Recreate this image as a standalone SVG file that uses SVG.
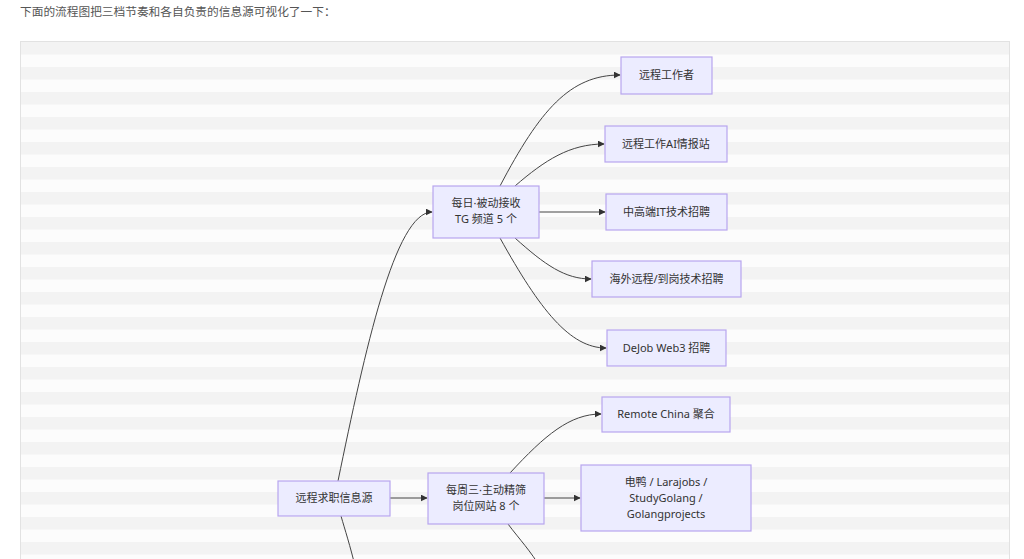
<svg xmlns="http://www.w3.org/2000/svg" width="1024" height="559" viewBox="0 0 1024 559">
<defs>
<pattern id="st" x="0" y="42" width="10" height="25" patternUnits="userSpaceOnUse"><rect width="10" height="25" fill="#fcfcfc"/><rect width="10" height="12.5" fill="#f3f3f3"/></pattern>
<marker id="ar" viewBox="0 0 10 10" refX="9" refY="5" markerWidth="7" markerHeight="7" orient="auto"><path d="M0,0L10,5L0,10z" fill="#333"/></marker>
</defs>
<style>
.n rect{fill:#ececff;stroke:#b8a6ee;stroke-width:1.2}
.n text{font-family:"Noto Sans","Noto Sans CJK SC",sans-serif;font-size:11px;fill:#333;text-anchor:middle}
#e path{fill:none;stroke:#444;stroke-width:1;marker-end:url(#ar)}
</style>
<rect width="1024" height="559" fill="#fff"/>
<text x="20" y="16" font-family="Noto Sans CJK SC,sans-serif" font-size="11.7" fill="#555">下面的流程图把三档节奏和各自负责的信息源可视化了一下：</text>
<rect x="20.5" y="41.5" width="989" height="530" fill="url(#st)" stroke="#e2e2e2"/>
<g id="e">
<path d="M338,481 C365,350 395,212 432,212"/>
<path d="M341,516 C345,530 350,545 356,570" style="marker-end:none"/>
<path d="M390,498 L427,498"/>
<path d="M510,473 C545,435 570,414 601,414"/>
<path d="M544,498 L580,498"/>
<path d="M508,524 C520,540 530,550 542,570" style="marker-end:none"/>
<path d="M500,186 C540,110 570,75 620,75"/>
<path d="M515,186 C545,160 570,144 604,144"/>
<path d="M539,212 L605,212"/>
<path d="M515,238 C545,265 565,279 591,279"/>
<path d="M500,238 C540,310 570,348 606,348"/>
</g>
<g id="n1" class="n"><rect x="621" y="57" width="91" height="37"/><text x="666.5" y="79">远程工作者</text></g>
<g id="n2" class="n"><rect x="605" y="126" width="122" height="36"/><text x="666" y="148">远程工作AI情报站</text></g>
<g id="n3" class="n"><rect x="606" y="194" width="121" height="36"/><text x="666.5" y="216">中高端IT技术招聘</text></g>
<g id="n4" class="n"><rect x="592" y="261" width="149" height="36"/><text x="666.5" y="283">海外远程/到岗技术招聘</text></g>
<g id="n5" class="n"><rect x="607" y="330" width="119" height="36"/><text x="666.5" y="352">DeJob Web3 招聘</text></g>
<g id="daily" class="n"><rect x="433" y="186" width="106" height="52"/><text x="486" y="207">每日·被动接收</text><text x="486" y="223">TG 频道 5 个</text></g>
<g id="n6" class="n"><rect x="602" y="397" width="128" height="35"/><text x="666" y="418">Remote China 聚合</text></g>
<g id="n7" class="n"><rect x="581" y="465" width="170" height="66"/><text x="666" y="486">电鸭 / Larajobs /</text><text x="666" y="502">StudyGolang /</text><text x="666" y="518">Golangprojects</text></g>
<g id="weekly" class="n"><rect x="428" y="473" width="116" height="51"/><text x="486" y="494">每周三·主动精筛</text><text x="486" y="510">岗位网站 8 个</text></g>
<g id="root" class="n"><rect x="278" y="481" width="112" height="35"/><text x="334" y="502">远程求职信息源</text></g>
</svg>
